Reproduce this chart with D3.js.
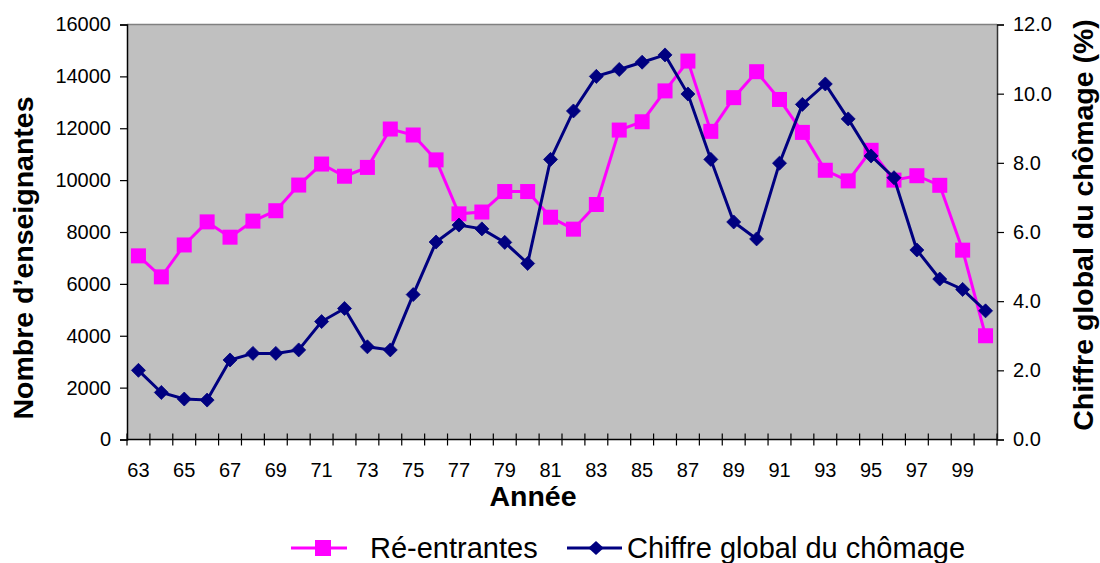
<!DOCTYPE html>
<html>
<head>
<meta charset="utf-8">
<script src="https://cdn.jsdelivr.net/npm/d3@7"></script>
<style>
  html, body { margin: 0; padding: 0; background: #fff; }
  svg { display: block; font-family: Arial, "Liberation Sans", sans-serif; }
</style>
</head>
<body>
<svg id="chart" width="1100" height="563"></svg>
<script>
// Years 1963–2000, labelled by their last two digits
const years = d3.range(63, 101);
const yearLabels = years.map(y => String(y));

// Ré-entrantes (number of teachers, left axis)
const reentrantes = [
  7080, 6270, 7500, 8390, 7800, 8420, 8820, 9810, 10620, 10150,
  10490, 11970, 11740, 10780, 8700, 8770, 9560, 9560, 8570, 8110,
  9060, 11930, 12250, 13440, 14590, 11880, 13180, 14180, 13110, 11840,
  10380, 9970, 11150, 10000, 10170, 9800, 7300, 4000
];

// Chiffre global du chômage (%, right axis)
const chomage = [
  2.0, 1.36, 1.17, 1.14, 2.3, 2.49, 2.49, 2.59, 3.41, 3.79,
  2.68, 2.59, 4.19, 5.71, 6.2, 6.09, 5.7, 5.09, 8.1, 9.5,
  10.5, 10.7, 10.91, 11.12, 9.99, 8.1, 6.29, 5.8, 7.99, 9.69,
  10.28, 9.27, 8.2, 7.57, 5.48, 4.64, 4.34, 3.72
];

const leftTicks = d3.range(0, 16001, 2000);
const rightTicks = d3.range(0, 12.01, 2);

const seriesNames = ["Ré-entrantes", "Chiffre global du chômage"];

const margin = { left: 127, right: 103, top: 24.5, bottom: 123.5 };
const W = 1100, H = 563;
const iw = W - margin.left - margin.right;
const ih = H - margin.top - margin.bottom;

const svg = d3.select("#chart");
const g = svg.append("g").attr("transform", `translate(${margin.left},${margin.top})`);

const x = d3.scaleBand().domain(years).range([0, iw]).padding(0);
const cx = d => x(d) + x.bandwidth() / 2;
const yL = d3.scaleLinear().domain([0, 16000]).range([ih, 0]);
const yR = d3.scaleLinear().domain([0, 12]).range([ih, 0]);

const tickFont = 20;

// plot area
g.append("rect").attr("width", iw).attr("height", ih).attr("fill", "#C0C0C0");
g.append("line").attr("x1", 0).attr("x2", iw).attr("y1", 0).attr("y2", 0)
  .attr("stroke", "#808080").attr("stroke-width", 1.5);

// left axis
const axL = g.append("g").call(d3.axisLeft(yL).tickValues(leftTicks).tickSize(7).tickPadding(9).tickFormat(d3.format("d")));
axL.select(".domain").attr("stroke", "#000").attr("stroke-width", 1.5);
axL.selectAll(".tick line").attr("stroke", "#000").attr("stroke-width", 1.2);
axL.selectAll("text").attr("font-size", tickFont).attr("fill", "#000").attr("font-family", "Arial, Liberation Sans, sans-serif");

// right axis
const axR = g.append("g").attr("transform", `translate(${iw},0)`)
  .call(d3.axisRight(yR).tickValues(rightTicks).tickSize(7).tickPadding(9).tickFormat(d3.format(".1f")));
axR.select(".domain").attr("stroke", "#333").attr("stroke-width", 1.5);
axR.selectAll(".tick line").attr("stroke", "#000").attr("stroke-width", 1.2);
axR.selectAll("text").attr("font-size", tickFont).attr("fill", "#000").attr("font-family", "Arial, Liberation Sans, sans-serif");

// bottom axis: crossing ticks at category boundaries, labels every other year
const axB = g.append("g").attr("transform", `translate(0,${ih})`);
axB.append("line").attr("x1", 0).attr("x2", iw).attr("stroke", "#000").attr("stroke-width", 1.5);
const bounds = years.map(d => x(d)).concat([iw]);
axB.selectAll("line.tk").data(bounds).join("line").attr("class", "tk")
  .attr("x1", d => d).attr("x2", d => d).attr("y1", -6).attr("y2", 6)
  .attr("stroke", "#000").attr("stroke-width", 1.2);
axB.selectAll("text").data(years.filter((d, i) => i % 2 === 0)).join("text")
  .attr("x", d => cx(d)).attr("y", 37.5)
  .attr("text-anchor", "middle").attr("font-size", tickFont).attr("fill", "#000")
  .text(d => yearLabels[years.indexOf(d)]);

// axis titles
svg.append("text").attr("x", 533).attr("y", 506).attr("text-anchor", "middle")
  .attr("font-size", 28.5).attr("font-weight", "bold").text("Année");
svg.append("text").attr("transform", "translate(33,258) rotate(-90)").attr("text-anchor", "middle")
  .attr("font-size", 28.5).attr("font-weight", "bold").text("Nombre d’enseignantes");
svg.append("text").attr("transform", "translate(1093,225) rotate(-90)").attr("text-anchor", "middle")
  .attr("font-size", 28.5).attr("font-weight", "bold").text("Chiffre global du chômage (%)");

// series
const pink = "#FF00FF", navy = "#000080";
const lineL = d3.line().x((d, i) => cx(years[i])).y(d => yL(d));
const lineR = d3.line().x((d, i) => cx(years[i])).y(d => yR(d));

g.append("path").datum(reentrantes).attr("d", lineL).attr("fill", "none")
  .attr("stroke", pink).attr("stroke-width", 3);
g.selectAll("rect.sq").data(reentrantes).join("rect").attr("class", "sq")
  .attr("x", (d, i) => cx(years[i]) - 7.5).attr("y", d => yL(d) - 7.5)
  .attr("width", 15).attr("height", 15).attr("fill", pink);

const diamond = d3.symbol().type(d3.symbolDiamond2).size(125);
g.append("path").datum(chomage).attr("d", lineR).attr("fill", "none")
  .attr("stroke", navy).attr("stroke-width", 3);
g.selectAll("path.dm").data(chomage).join("path").attr("class", "dm")
  .attr("transform", (d, i) => `translate(${cx(years[i])},${yR(d)})`)
  .attr("d", diamond).attr("fill", navy)
  .attr("stroke", navy).attr("stroke-width", 0.8).attr("stroke-linejoin", "round");

// legend
const leg = svg.append("g").attr("transform", "translate(0,548)");
leg.append("line").attr("x1", 291).attr("x2", 347).attr("stroke", pink).attr("stroke-width", 3);
leg.append("rect").attr("x", 315).attr("y", -8).attr("width", 16).attr("height", 16).attr("fill", pink);
leg.append("text").attr("x", 370).attr("y", 9.5).attr("font-size", 29).text(seriesNames[0]);
leg.append("line").attr("x1", 567).attr("x2", 622).attr("stroke", navy).attr("stroke-width", 3);
leg.append("path").attr("transform", "translate(596,0) scale(1.1,1)").attr("d", diamond).attr("fill", navy);
leg.append("text").attr("x", 627).attr("y", 9.5).attr("font-size", 29).text(seriesNames[1]);
</script>
</body>
</html>
